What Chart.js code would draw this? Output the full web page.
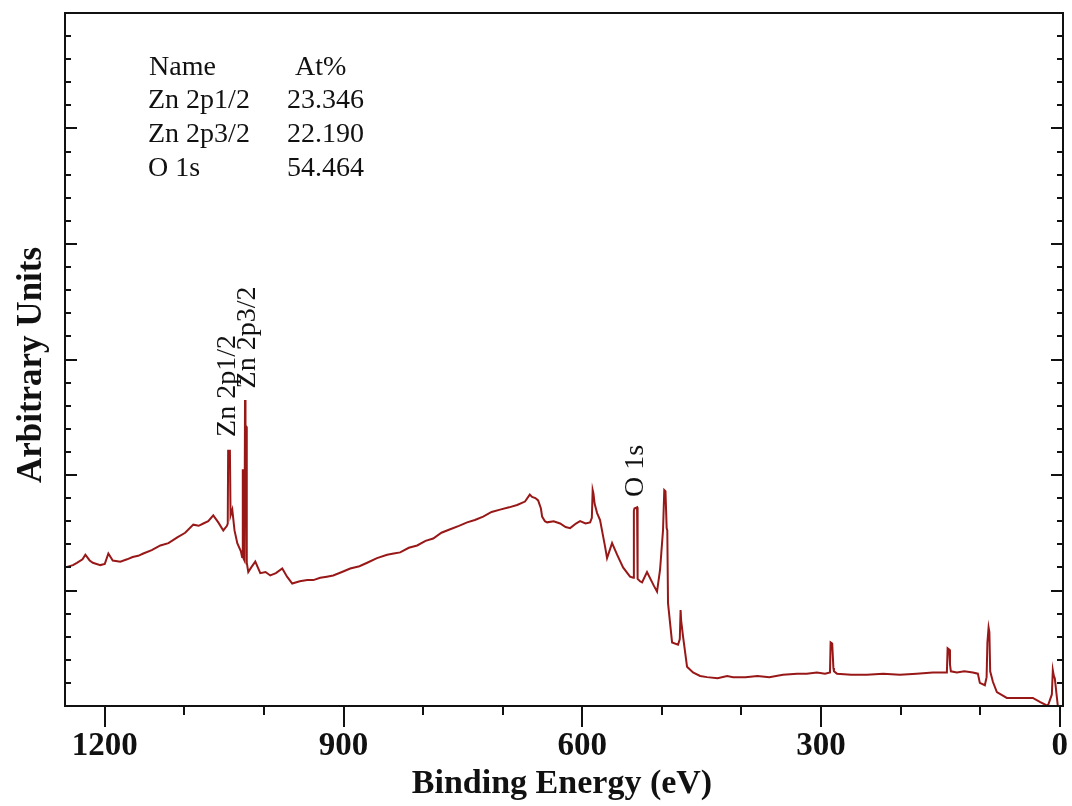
<!DOCTYPE html>
<html>
<head>
<meta charset="utf-8">
<script src="https://cdn.jsdelivr.net/npm/chart.js@4.4.1/dist/chart.umd.min.js"></script>
<style>
  html, body { margin: 0; padding: 0; background: #fff; }
  #xps { display: block; }
</style>
</head>
<body>
<canvas id="xps" width="1072" height="806"></canvas>
<script>
// binding energy (eV) and intensity (arbitrary units)
const energies = [
  1249.5, 1240, 1235, 1228, 1224.4, 1219, 1215, 1205.6, 1200, 1195.5, 1190, 1180.5, 1172,
  1165, 1158, 1151.6, 1141, 1130.2, 1120, 1108.9, 1099, 1088.8, 1082, 1076.2, 1070,
  1063.7, 1057.4, 1051.1, 1046.5, 1045.5, 1045, 1042.8, 1042, 1039.8, 1037, 1033.5,
  1029, 1027.5, 1026.6, 1025.8, 1024.5, 1023.8, 1023.2, 1022.4, 1021.6, 1019.7, 1016,
  1010.9, 1004.6, 998, 992.1, 985, 977, 971, 964.5, 955, 945.6, 938, 929.3, 921, 913,
  902, 891.6, 880, 870.3, 858, 845.2, 837, 828.8, 818, 807.5, 797, 787.4, 777, 766,
  755, 744.7, 735, 724.6, 714, 703.3, 692, 681.9, 672, 666, 663.1, 659, 655.5, 652,
  650.5, 647, 644.2, 636, 627.9, 621, 615.3, 608, 602.8, 596, 590.2, 588, 587, 586,
  584.5, 581.4, 577.7, 571.4, 568.9, 562.6, 556.3, 548.8, 540, 536, 535.2, 534.5, 531.2,
  530.5, 527.5, 524.9, 518.7, 510, 506.1, 502.3, 498.6, 497, 495.5, 494, 493.2, 492.3,
  487.2, 479.7, 477.5, 476.5, 475.8, 473.4, 468.4, 460.9, 452, 443.3, 430, 418, 410.6,
  395, 380, 365, 347.9, 330, 318, 305.2, 295, 288.8, 288, 286, 284.5, 283.8, 280, 262,
  242.4, 222, 200.9, 180, 159.5, 150, 141.9, 141, 139, 138, 136.9, 129.3, 120, 109.3,
  103, 100.5, 94.2, 92, 91, 89.5, 88.5, 87.5, 84.1, 79.1, 66.6, 50, 33.9, 25.1, 15.1, 10,
  8.8, 7.5, 6.3, 2.5, -3.8
];
const intensity = [
  12.0, 12.2, 12.4, 12.7, 13.1, 12.6, 12.4, 12.2, 12.3, 13.2, 12.6, 12.5, 12.7,
  12.9, 13.0, 13.2, 13.5, 13.9, 14.1, 14.6, 15.0, 15.7, 15.6, 15.8, 16.0,
  16.5, 15.9, 15.2, 15.6, 15.8, 22.1, 22.1, 16.5, 17.0, 15.2, 14.1,
  13.4, 12.9, 20.5, 12.8, 12.6, 26.5, 24.3, 24.2, 12.4, 11.6, 12.0,
  12.5, 11.5, 11.6, 11.3, 11.5, 11.9, 11.2, 10.6, 10.8, 10.9, 10.9, 11.1, 11.2, 11.3,
  11.6, 11.9, 12.1, 12.4, 12.8, 13.1, 13.2, 13.3, 13.7, 13.9, 14.3, 14.5, 15.0, 15.3,
  15.6, 15.9, 16.1, 16.4, 16.8, 17.0, 17.2, 17.4, 17.7, 18.3, 18.1, 18.0, 17.8, 17.1,
  16.4, 16.0, 15.9, 16.0, 15.8, 15.5, 15.4, 15.8, 16.0, 15.8, 15.9, 16.3, 18.7, 18.4,
  17.5, 16.7, 16.1, 13.8, 12.8, 14.1, 13.1, 12.0, 11.2, 11.1, 16.9, 17.1, 17.2,
  11.0, 10.8, 10.7, 11.6, 10.4, 9.9, 11.8, 15.2, 18.7, 18.6, 15.4, 15.2,
  8.9, 5.5, 5.3, 5.8, 8.3, 7.4, 6.0, 3.4, 2.9, 2.6, 2.5, 2.4, 2.6, 2.5,
  2.5, 2.6, 2.5, 2.7, 2.8, 2.8, 2.9, 2.8, 2.9, 5.5, 5.4, 3.3, 3.0, 2.8, 2.7,
  2.7, 2.8, 2.7, 2.8, 2.9, 2.9, 2.9, 5.0, 4.9, 3.6, 3.0, 2.9, 3.0, 2.9,
  2.8, 2.0, 1.8, 2.5, 5.5, 6.8, 6.4, 3.0, 2.1, 1.2, 0.7, 0.7, 0.7, 0.35, 0.0, 1.0,
  3.1, 2.6, 2.4, 0.0, 0.0
];

const xMajorTicks = [0, 300, 600, 900, 1200];
const xMinorTicks = [100, 200, 400, 500, 700, 800, 1000, 1100];
const yMajorTicks = [10, 20, 30, 40, 50];

// quantification table
const tableHeader = ['Name', 'At%'];
const tableNames = ['Zn 2p1/2', 'Zn 2p3/2', 'O 1s'];
const tablePercents = ['23.346', '22.190', '54.464'];

// peak labels: text, energy, intensity at the start of the text
const peakNames = ['Zn 2p1/2', 'Zn 2p3/2', 'O 1s'];
const peakEnergies = [1046, 1020, 532.5];
const peakLevels = [23.3, 27.5, 18.1];

const SERIF = '"Liberation Serif", "DejaVu Serif", serif';

const points = energies.map((e, i) => ({ x: e, y: intensity[i] }));

const framePlugin = {
  id: 'frame',
  afterDraw(chart) {
    const ctx = chart.ctx;
    const { left, right, top, bottom } = chart.chartArea;
    const xs = chart.scales.x, ys = chart.scales.y;
    ctx.save();
    ctx.strokeStyle = '#111';
    ctx.fillStyle = '#111';

    // frame
    ctx.lineWidth = 2;
    ctx.strokeRect(left, top, right - left, bottom - top);

    // x ticks, pointing down
    ctx.beginPath();
    xMajorTicks.forEach(v => {
      const px = Math.round(xs.getPixelForValue(v));
      ctx.moveTo(px, bottom); ctx.lineTo(px, bottom + 21);
    });
    xMinorTicks.forEach(v => {
      const px = Math.round(xs.getPixelForValue(v));
      ctx.moveTo(px, bottom); ctx.lineTo(px, bottom + 9);
    });
    ctx.stroke();

    // y ticks, inward on both sides
    ctx.beginPath();
    for (let v = 2; v < 60; v += 2) {
      const py = Math.round(ys.getPixelForValue(v));
      const len = yMajorTicks.includes(v) ? 12 : 6;
      ctx.moveTo(left, py); ctx.lineTo(left + len, py);
      ctx.moveTo(right, py); ctx.lineTo(right - len, py);
    }
    ctx.stroke();

    // x tick labels
    ctx.font = 'bold 33px ' + SERIF;
    ctx.textAlign = 'center';
    ctx.textBaseline = 'middle';
    xMajorTicks.forEach(v => {
      ctx.fillText(String(v), xs.getPixelForValue(v), bottom + 40);
    });

    // axis titles
    ctx.font = 'bold 34px ' + SERIF;
    ctx.fillText('Binding Energy (eV)', 562, 784);
    ctx.save();
    ctx.translate(32, 365);
    ctx.rotate(-Math.PI / 2);
    ctx.font = 'bold 35px ' + SERIF;
    ctx.fillText('Arbitrary Units', 0, 0);
    ctx.restore();

    // table
    ctx.font = '28px ' + SERIF;
    ctx.textAlign = 'left';
    ctx.fillText(tableHeader[0], 149, 68);
    ctx.fillText(tableHeader[1], 295, 68);
    tableNames.forEach((n, i) => {
      const y = 101 + i * 33.7;
      ctx.fillText(n, 148, y);
      ctx.fillText(tablePercents[i], 287, y);
    });

    // peak labels
    ctx.font = '28px ' + SERIF;
    peakNames.forEach((n, i) => {
      ctx.save();
      ctx.translate(xs.getPixelForValue(peakEnergies[i]), ys.getPixelForValue(peakLevels[i]));
      ctx.rotate(-Math.PI / 2);
      ctx.textAlign = 'left';
      ctx.fillText(n, 0, 0);
      ctx.restore();
    });
    ctx.restore();
  }
};

new Chart(document.getElementById('xps'), {
  type: 'line',
  data: {
    datasets: [{
      data: points,
      borderColor: '#981818',
      borderWidth: 2,
      pointRadius: 0,
      tension: 0,
      fill: false
    }]
  },
  options: {
    responsive: false,
    animation: false,
    layout: { padding: { left: 65, right: 9, top: 13, bottom: 100 } },
    plugins: { legend: { display: false }, tooltip: { enabled: false } },
    scales: {
      x: { type: 'linear', reverse: true, min: -4, max: 1250, display: false },
      y: { type: 'linear', min: 0, max: 60, display: false }
    }
  },
  plugins: [framePlugin]
});
</script>
</body>
</html>
